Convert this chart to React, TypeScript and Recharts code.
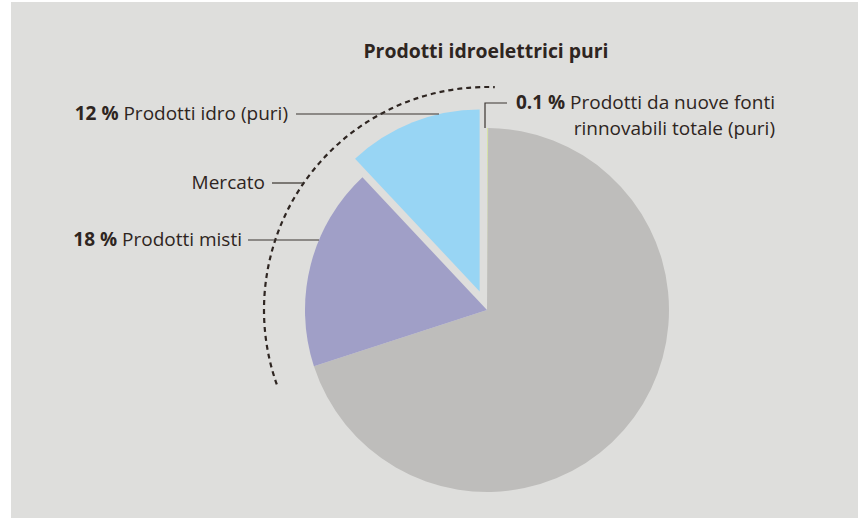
import { Cell, Pie, PieChart } from "recharts";

// slices, clockwise from 12 o'clock
const sliceNames = [
  "Prodotti da nuove fonti rinnovabili totale (puri)",
  "Altro",
  "Prodotti misti",
  "Prodotti idro (puri)",
];
const sliceValues = [0.1, 69.9, 18, 12];
const sliceColors = ["#d6e2a6", "#bebdbb", "#a09fc7", "#98d5f4"];
const sliceLabels = ["0.1 %", "", "18 %", "12 %"];

// "Mercato" bracket = prodotti misti + prodotti idro
const marketNames = ["Resto", "Mercato"];
const marketValues = [sliceValues[0] + sliceValues[1], sliceValues[2] + sliceValues[3]];

const TITLE = "Prodotti idroelettrici puri";

const W = 858;
const H = 519;
const CX = 487;
const CY = 310;
const R = 182;
const EXPLODE = 20;
const ARC_R = 223;
const INK = "#2e2521";
const FONT = "'Open Sans', sans-serif";

const data = sliceNames.map((name, i) => ({ name, value: sliceValues[i] }));
const marketData = marketNames.map((name, i) => ({ name, value: marketValues[i] }));

const total = sliceValues.reduce((a, b) => a + b, 0);
const RAD = Math.PI / 180;

// mid angle of the exploded slice (index 3), recharts convention
const blueStart = 90 - (360 * (total - sliceValues[3])) / total;
const blueMid = blueStart - (360 * sliceValues[3]) / total / 2;
const BX = CX + EXPLODE * Math.cos(-blueMid * RAD);
const BY = CY + EXPLODE * Math.sin(-blueMid * RAD);

// x of the left edge of a circle at height y
const leftEdge = (cx: number, cy: number, r: number, y: number) =>
  cx - Math.sqrt(Math.max(0, r * r - (y - cy) * (y - cy)));

const textStyle = { fontFamily: FONT, fontSize: 19, fill: INK };

const renderSliceLabel = (props: any) => {
  const { index } = props;
  if (index === 0) {
    const lx = CX - 2;
    return (
      <g key="l0">
        <polyline
          points={`${lx},${CY - R} ${lx},103 ${lx + 22},103`}
          fill="none"
          stroke="#3a3430"
          strokeWidth={1.2}
        />
        <text x={775} y={109} textAnchor="end" style={textStyle}>
          <tspan fontWeight={700}>{sliceLabels[0]}</tspan> Prodotti da nuove fonti
        </text>
        <text x={775} y={135} textAnchor="end" style={textStyle}>
          rinnovabili totale (puri)
        </text>
      </g>
    );
  }
  if (index === 2) {
    const y = 240;
    return (
      <g key="l2">
        <line x1={248} y1={y} x2={leftEdge(CX, CY, R, y)} y2={y} stroke="#3a3430" strokeWidth={1.2} />
        <text x={242} y={y + 6} textAnchor="end" style={textStyle}>
          <tspan fontWeight={700}>{sliceLabels[2]}</tspan> {sliceNames[2]}
        </text>
      </g>
    );
  }
  if (index === 3) {
    const y = 114;
    return (
      <g key="l3">
        <line x1={296} y1={y} x2={leftEdge(BX, BY, R, y)} y2={y} stroke="#3a3430" strokeWidth={1.2} />
        <text x={288} y={y + 6} textAnchor="end" style={textStyle}>
          <tspan fontWeight={700}>{sliceLabels[3]}</tspan> {sliceNames[3]}
        </text>
      </g>
    );
  }
  return null;
};

const renderMarketArc = (props: any) => {
  if (props.index !== 1) return null;
  const a0 = props.startAngle + 1.5;
  const a1 = props.endAngle - 2;
  const p = (a: number) => [CX + ARC_R * Math.cos(-a * RAD), CY + ARC_R * Math.sin(-a * RAD)];
  const [x0, y0] = p(a0);
  const [x1, y1] = p(a1);
  const y = 183;
  return (
    <g key="arc">
      <path
        d={`M${x0},${y0} A${ARC_R},${ARC_R} 0 0 1 ${x1},${y1}`}
        fill="none"
        stroke={INK}
        strokeWidth={2.2}
        strokeDasharray="5 4"
      />
      <line x1={272} y1={y} x2={leftEdge(CX, CY, ARC_R, y)} y2={y} stroke="#3a3430" strokeWidth={1.2} />
      <text x={265} y={y + 6} textAnchor="end" style={textStyle}>
        {marketNames[1]}
      </text>
    </g>
  );
};

export default function App() {
  return (
    <div style={{ position: "absolute", left: 0, top: 0, width: W, height: H, background: "#ffffff" }}>
      <div
        style={{ position: "absolute", left: 11, top: 2, width: W - 11, height: H - 3, background: "#dededc" }}
      />
      <div style={{ position: "absolute", left: 0, top: 0 }}>
        <PieChart width={W} height={H} margin={{ top: 0, right: 0, bottom: 0, left: 0 }}>
          <Pie
            data={marketData}
            dataKey="value"
            nameKey="name"
            cx={CX}
            cy={CY}
            innerRadius={ARC_R}
            outerRadius={ARC_R}
            startAngle={90}
            endAngle={-270}
            stroke="none"
            fill="none"
            label={renderMarketArc}
            labelLine={false}
            isAnimationActive={false}
          >
            {marketData.map((d) => (
              <Cell key={d.name} fill="none" stroke="none" />
            ))}
          </Pie>
          <Pie
            data={data}
            dataKey="value"
            nameKey="name"
            cx={CX}
            cy={CY}
            outerRadius={R}
            startAngle={90}
            endAngle={-270}
            stroke="none"
            label={renderSliceLabel}
            labelLine={false}
            isAnimationActive={false}
          >
            {data.map((d, i) => (
              <Cell key={d.name} fill={i === 3 ? "none" : sliceColors[i]} stroke="none" />
            ))}
          </Pie>
          <Pie
            data={data}
            dataKey="value"
            nameKey="name"
            cx={BX}
            cy={BY}
            outerRadius={R}
            startAngle={90}
            endAngle={-270}
            stroke="none"
            labelLine={false}
            isAnimationActive={false}
          >
            {data.map((d, i) => (
              <Cell key={d.name} fill={i === 3 ? sliceColors[i] : "none"} stroke="none" />
            ))}
          </Pie>
        </PieChart>
      </div>
      <div
        style={{
          position: "absolute",
          left: 0,
          width: W,
          top: 37,
          textAlign: "center",
          paddingLeft: 114,
          boxSizing: "border-box",
          fontFamily: FONT,
          fontWeight: 700,
          fontSize: 19.4,
          color: INK,
        }}
      >
        {TITLE}
      </div>
    </div>
  );
}
